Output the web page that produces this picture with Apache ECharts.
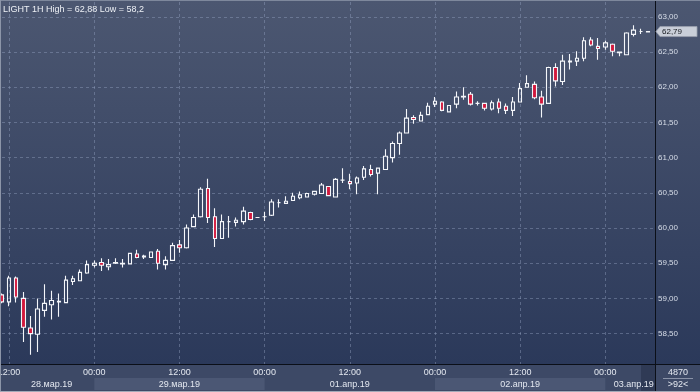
<!DOCTYPE html>
<html><head><meta charset="utf-8">
<script src="https://cdn.jsdelivr.net/npm/echarts@6/dist/echarts.min.js"></script>
<style>
html,body{margin:0;padding:0;background:#3d4966;}
#c{width:700px;height:392px;background:linear-gradient(to bottom,#4c5771 0px,#2b395a 364px,#3d4966 365px,#3d4966 392px);}
</style>
</head><body><div id="c"></div>
<script>
const titleText = 'LIGHT 1H High = 62,88 Low = 58,2';
const barCountText = '4870';
const visibleBarsText = '>92<';

const categories = [
 '28.03 11:00','28.03 12:00','28.03 13:00','28.03 14:00','28.03 15:00','28.03 16:00','28.03 17:00','28.03 18:00','28.03 19:00','28.03 20:00','28.03 21:00','28.03 22:00','28.03 23:00',
 '29.03 00:00','29.03 01:00','29.03 02:00','29.03 03:00','29.03 04:00','29.03 05:00','29.03 06:00','29.03 07:00','29.03 08:00','29.03 09:00','29.03 10:00','29.03 11:00',
 '29.03 12:00','29.03 13:00','29.03 14:00','29.03 15:00','29.03 16:00','29.03 17:00','29.03 18:00','29.03 19:00','29.03 20:00','29.03 21:00','29.03 22:00','29.03 23:00',
 '01.04 00:00','01.04 01:00','01.04 02:00','01.04 03:00','01.04 04:00','01.04 05:00','01.04 06:00','01.04 07:00','01.04 08:00','01.04 09:00','01.04 10:00','01.04 11:00',
 '01.04 12:00','01.04 13:00','01.04 14:00','01.04 15:00','01.04 16:00','01.04 17:00','01.04 18:00','01.04 19:00','01.04 20:00','01.04 21:00','01.04 22:00','01.04 23:00',
 '02.04 00:00','02.04 01:00','02.04 02:00','02.04 03:00','02.04 04:00','02.04 05:00','02.04 06:00','02.04 07:00','02.04 08:00','02.04 09:00','02.04 10:00','02.04 11:00',
 '02.04 12:00','02.04 13:00','02.04 14:00','02.04 15:00','02.04 16:00','02.04 17:00','02.04 18:00','02.04 19:00','02.04 20:00','02.04 21:00','02.04 22:00','02.04 23:00',
 '03.04 00:00','03.04 01:00','03.04 02:00','03.04 03:00','03.04 04:00','03.04 05:00','03.04 06:00','03.04 07:00'
];

const opens = [
 59.05,58.95,59.29,59.00,58.58,58.49,58.83,58.91,58.95,58.94,59.24,59.25,59.36,
 59.47,59.51,59.45,59.50,59.49,59.49,59.63,59.59,59.58,59.67,59.48,59.54,
 59.76,59.72,60.02,60.16,60.56,60.16,59.85,60.09,60.08,60.09,60.22,60.15,
 60.16,60.18,60.36,60.35,60.39,60.43,60.44,60.48,60.49,60.59,60.44,60.68,
 60.66,60.64,60.72,60.83,60.78,60.83,61.00,61.20,61.35,61.57,61.52,61.61,
 61.76,61.79,61.65,61.76,61.86,61.90,61.77,61.77,61.69,61.79,61.73,61.67,
 61.79,62.00,62.04,61.86,61.77,62.28,62.08,62.36,62.37,62.41,62.67,62.58,
 62.57,62.61,62.49,62.46,62.75,62.79,62.785
];
const closes = [
 58.95,59.29,59.02,58.59,58.50,58.85,58.93,58.97,58.96,59.26,59.28,59.37,59.48,
 59.50,59.47,59.48,59.51,59.50,59.64,59.58,59.60,59.66,59.50,59.54,59.75,
 59.72,60.00,60.15,60.55,60.15,59.85,60.09,60.09,60.11,60.24,60.12,60.15,
 60.16,60.37,60.36,60.38,60.45,60.47,60.49,60.52,60.61,60.46,60.69,60.68,
 60.63,60.71,60.84,60.76,60.85,61.02,61.20,61.35,61.56,61.54,61.60,61.73,
 61.80,61.67,61.74,61.86,61.87,61.76,61.77,61.70,61.78,61.70,61.67,61.79,
 61.98,62.05,61.85,61.76,62.28,62.09,62.37,62.37,62.41,62.66,62.60,62.55,
 62.63,62.51,62.50,62.77,62.81,62.79,62.79
];
const lows = [
 58.93,58.89,58.94,58.38,58.20,58.24,58.74,58.70,58.74,58.94,59.19,59.25,59.35,
 59.44,59.39,59.40,59.49,59.44,59.49,59.57,59.56,59.58,59.41,59.41,59.54,
 59.65,59.71,60.01,60.15,60.07,59.73,59.85,59.86,60.02,60.05,60.11,60.145,
 60.10,60.17,60.29,60.35,60.39,60.41,60.44,60.46,60.49,60.46,60.44,60.64,
 60.55,60.48,60.68,60.73,60.48,60.83,60.93,61.04,61.35,61.48,61.52,61.61,
 61.72,61.66,61.65,61.70,61.82,61.74,61.74,61.67,61.67,61.63,61.62,61.59,
 61.79,62.00,61.83,61.57,61.76,62.01,62.03,62.25,62.30,62.37,62.58,62.39,
 62.53,62.44,62.44,62.46,62.72,62.755,62.78
];
const highs = [
 59.07,59.32,59.31,59.09,58.75,59.00,59.20,59.11,59.07,59.32,59.32,59.41,59.54,
 59.54,59.57,59.56,59.57,59.56,59.65,59.69,59.62,59.66,59.70,59.60,59.79,
 59.83,60.05,60.19,60.58,60.70,60.28,60.19,60.17,60.15,60.30,60.23,60.155,
 60.23,60.41,60.41,60.45,60.50,60.52,60.50,60.53,60.64,60.59,60.71,60.85,
 60.77,60.73,60.88,60.90,60.85,61.12,61.23,61.37,61.69,61.60,61.65,61.78,
 61.86,61.80,61.745,61.94,62.00,61.93,61.80,61.775,61.81,61.84,61.77,61.86,
 62.06,62.17,62.08,61.95,62.29,62.34,62.46,62.47,62.51,62.71,62.71,62.70,
 62.66,62.62,62.50,62.78,62.88,62.83,62.795
];

const yTicks = [58.5,59,59.5,60,60.5,61,61.5,62,62.5,63];
const timeLabelIdx = [1,13,25,37,49,61,73,85];
const dateLabelIdx = [7,25,49,73,89];
const dateLabels = ['28.мар.19','29.мар.19','01.апр.19','02.апр.19','03.апр.19'];
const dayStartIdx = [13,37,61,85];

const candleData = opens.map((o,i)=>[o, closes[i], lows[i], highs[i]]);
const fmtPrice = v => v.toFixed(2).replace('.', ',');

const chart = echarts.init(document.getElementById('c'), null, {renderer:'canvas'});
const gridCol = 'rgba(150,165,195,0.42)';
const txtCol = '#e4e8f0';
const font = 'Liberation Sans, Arial, sans-serif';

chart.setOption({
  animation:false,
  backgroundColor:'transparent',
  grid:{left:2,right:45,top:2,bottom:27,containLabel:false,outerBoundsMode:'none'},
  xAxis:[{
    type:'category', data:categories, boundaryGap:false,
    axisLine:{show:false}, axisTick:{show:false},
    axisLabel:{interval:(i)=>timeLabelIdx.includes(i), formatter:v=>v.split(' ')[1],
      fontSize:9, fontFamily:font, color:txtCol, margin:3},
    splitLine:{show:true, interval:(i)=>timeLabelIdx.includes(i), lineStyle:{color:gridCol,type:[3,3],width:1}}
  },{
    type:'category', data:categories, boundaryGap:false, position:'bottom', offset:12,
    axisLine:{show:false}, axisTick:{show:false}, splitLine:{show:false},
    axisLabel:{interval:(i)=>dateLabelIdx.includes(i), formatter:(v,i)=>dateLabels[dateLabelIdx.indexOf(i)] || '',
      fontSize:9, fontFamily:font, color:txtCol, margin:3}
  }],
  yAxis:{
    type:'value', position:'right', min:58.054, max:63.21, scale:true,
    axisLine:{show:false},
    axisTick:{show:false, customValues:yTicks},
    axisLabel:{customValues:yTicks, formatter:fmtPrice, fontSize:8, fontFamily:font, color:'#d8dee9', margin:3},
    splitLine:{show:true, lineStyle:{color:gridCol,type:[3,3],width:1}}
  },
  series:[{
    type:'candlestick', xAxisIndex:0, yAxisIndex:0, data:candleData, barWidth:4, clip:true,
    itemStyle:{color:'rgba(0,0,0,0)', color0:'#d2193d', borderColor:'#f4f6fa', borderColor0:'#f4f6fa', borderColorDoji:'#f4f6fa', borderWidth:1.1}
  }]
});

const W = 700, H = 392;
const gx = i => chart.convertToPixel({xAxisIndex:0}, i);
const gy = v => chart.convertToPixel({yAxisIndex:0}, v);
const xRight = gx(categories.length-1);
const yBottom = gy(58.054);
const g = [];
for (let j=0;j+1<dayStartIdx.length;j+=2){
  const a = gx(dayStartIdx[j]), b = gx(dayStartIdx[j+1]);
  g.push({type:'rect', z:-5, shape:{x:a, y:yBottom+13, width:b-a, height:12}, style:{fill:'#4b5774'}});
}
g.push({type:'rect', z:-4, shape:{x:xRight-14, y:yBottom, width:14, height:H-yBottom-1}, style:{fill:'#2f3a55'}});
g.push({type:'rect', z:50, shape:{x:0, y:Math.round(yBottom)-1, width:W, height:1}, style:{fill:'#0b0f18'}});
g.push({type:'rect', z:50, shape:{x:Math.round(xRight), y:0, width:1, height:H}, style:{fill:'#0b0f18'}});
g.push({type:'rect', z:50, shape:{x:0, y:0, width:W, height:1}, style:{fill:'#7e889c'}});
g.push({type:'rect', z:50, shape:{x:0, y:0, width:1, height:H}, style:{fill:'#8c95a8'}});
g.push({type:'rect', z:50, shape:{x:0, y:H-1, width:W, height:1}, style:{fill:'#a2a9b8'}});
g.push({type:'text', z:60, style:{x:3, y:10, text:titleText, fill:'#eef1f6', font:'9px '+font, textVerticalAlign:'middle'}});
const last = closes[closes.length-1];
const py = gy(last);
const bx = Math.round(xRight)+1;
g.push({type:'polygon', z:60, shape:{points:[[bx,py],[bx+4,py-5],[bx+41,py-5],[bx+41,py+5],[bx+4,py+5]]}, style:{fill:'#c9ced8', stroke:'#9aa1ae', lineWidth:0.8}});
g.push({type:'text', z:61, style:{x:bx+6, y:py, text:fmtPrice(last), fill:'#15181e', font:'8px '+font, textVerticalAlign:'middle'}});
const cx = (bx + W)/2;
g.push({type:'text', z:60, style:{x:cx, y:yBottom+8, text:barCountText, fill:txtCol, font:'9px '+font, textAlign:'center', textVerticalAlign:'middle'}});
g.push({type:'rect', z:60, shape:{x:cx-15, y:yBottom+13, width:30, height:1}, style:{fill:'#8a93a8'}});
g.push({type:'text', z:60, style:{x:cx, y:yBottom+20, text:visibleBarsText, fill:txtCol, font:'9px '+font, textAlign:'center', textVerticalAlign:'middle'}});
chart.setOption({graphic:g});
</script>
</body></html>
